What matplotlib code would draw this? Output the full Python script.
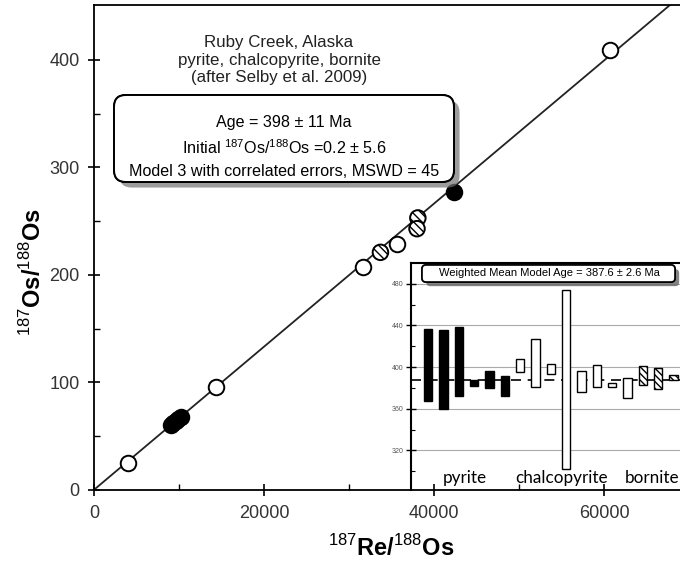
import numpy as np
import matplotlib
matplotlib.use("Agg")
import matplotlib.pyplot as plt
import matplotlib.patheffects as pe
from matplotlib.patches import FancyBboxPatch
from matplotlib.transforms import IdentityTransform

plt.rcParams['font.family'] = ['Liberation Sans', 'DejaVu Sans']
plt.rcParams['mathtext.fontset'] = 'custom'
plt.rcParams['mathtext.rm'] = 'Liberation Sans'
plt.rcParams['mathtext.bf'] = 'Liberation Sans:bold'

# isochron regression
AGE_MA = 398
AGE_ERR = 11
OS_INITIAL = 0.2
OS_INITIAL_ERR = 5.6
MSWD = 45
LAMBDA_187RE = 1.666e-11  # per year

# 187Re/188Os vs 187Os/188Os by mineral
pyrite_re = [9000, 9300, 9600, 9900, 10200, 42300]
pyrite_os = [60, 62, 64, 66, 68, 277]
chalco_re = [4000, 14350, 31650, 35650, 60700]
chalco_os = [25, 96, 207, 229, 409]
bornite_re = [33700, 38100, 38000]
bornite_os = [221, 253, 243]

# Re-Os model ages (Ma), lower / upper ends of the error bars
model_mineral = ['pyrite'] * 6 + ['chalcopyrite'] * 8 + ['bornite'] * 3
model_lo = [367, 360, 372, 382, 380, 372, 395, 381, 393, 302, 376, 381, 381, 370, 383, 379, 388]
model_hi = [437, 436, 439, 388, 396, 391, 408, 427, 403, 474, 396, 402, 385, 390, 401, 399, 392]
WMEAN = 387.6
WMEAN_ERR = 2.6

W, H = 680, 571
fig = plt.figure(figsize=(W / 100, H / 100), dpi=100)
fig.patch.set_facecolor('white')


def px(x0, y0, x1, y1):
    # pixel box (top-left origin) -> figure fraction rect
    return [x0 / W, 1 - y1 / H, (x1 - x0) / W, (y1 - y0) / H]


ax = fig.add_axes(px(94, 5, 689, 490))
ax.set_zorder(3)
ax.patch.set_visible(False)

xs = np.array([0, 70000])
slope = np.exp(LAMBDA_187RE * AGE_MA * 1e6) - 1
ax.plot(xs, OS_INITIAL + slope * xs, color='#222222', lw=1.3, zorder=2)

kw = dict(s=125, linewidths=1.4, edgecolors='black', zorder=4)
ax.scatter(chalco_re, chalco_os, facecolors='white', **kw)
ax.scatter(pyrite_re, pyrite_os, facecolors='black', **kw)
ax.scatter(bornite_re, bornite_os, facecolors='white', hatch='\\\\\\\\', **kw)

ax.set_xlim(0, 70000)
ax.set_ylim(0, 451)
ax.set_xticks([0, 20000, 40000, 60000])
ax.set_xticks([10000, 30000, 50000], minor=True)
ax.set_yticks([0, 100, 200, 300, 400])
ax.set_yticks([50, 150, 250, 350], minor=True)
ax.tick_params(which='major', direction='inout', length=9, width=1.2,
               labelsize=13, labelcolor='#333333', pad=6)
ax.tick_params(which='minor', direction='in', length=4, width=1)
for side in ['left', 'bottom', 'top']:
    ax.spines[side].set_linewidth(1.3)
ax.spines['right'].set_visible(False)

fig.text(33 / W, 1 - 272 / H, r'$^{187}$Os/$^{188}$Os', rotation=90,
         ha='center', va='center', fontsize=17, fontweight='bold')
fig.text(391 / W, 1 - 548 / H, r'$^{187}$Re/$^{188}$Os',
         ha='center', va='center', fontsize=17, fontweight='bold')

# location note
for i, line in enumerate(['Ruby Creek, Alaska', 'pyrite, chalcopyrite, bornite',
                          '(after Selby et al. 2009)']):
    fig.text(279 / W, 1 - (43 + 17.5 * i) / H, line, ha='center', va='center',
             fontsize=12.2, color='#222222')

# result box
box = FancyBboxPatch((114, H - 182), 340, 87, boxstyle='round,pad=0,rounding_size=12',
                     transform=IdentityTransform(), facecolor='white',
                     edgecolor='black', lw=1.4, zorder=5)
box.set_path_effects([pe.withSimplePatchShadow(offset=(4, -4), shadow_rgbFace='0.45', alpha=0.7),
                      pe.Normal()])
fig.add_artist(box)
fig.text(284 / W, 1 - 122 / H, f'Age = {AGE_MA} ± {AGE_ERR} Ma', ha='center', va='center',
         fontsize=11.6, zorder=6)
fig.text(284 / W, 1 - 148 / H,
         rf'Initial $^{{187}}$Os/$^{{188}}$Os ={OS_INITIAL} ± {OS_INITIAL_ERR}',
         ha='center', va='center', fontsize=11.6, zorder=6)
fig.text(284 / W, 1 - 171 / H, f'Model 3 with correlated errors, MSWD = {MSWD}',
         ha='center', va='center', fontsize=11.6, zorder=6)

# inset: model ages per sample
ins = fig.add_axes(px(411, 263, 700, 490))
ins.set_zorder(2)
pos = np.arange(1, len(model_lo) + 1)
lo = np.array(model_lo)
hi = np.array(model_hi)
style = {'pyrite': dict(color='black', edgecolor='black'),
         'chalcopyrite': dict(color='white', edgecolor='black'),
         'bornite': dict(color='white', edgecolor='black', hatch='\\\\\\\\\\')}
for p, b, t, m in zip(pos, lo, hi, model_mineral):
    ins.bar(p, t - b, bottom=b, width=0.55, linewidth=1.0, zorder=3, **style[m])
ins.axhline(WMEAN, color='black', lw=1.2, ls=(0, (6, 4)), zorder=2)
ins.set_xlim(-0.11, 18.72)
ins.set_ylim(282, 500)
ins.set_yticks([320, 360, 400, 440, 480])
ins.set_yticks([300, 340, 380, 420, 460], minor=True)
ins.yaxis.grid(True, color='#aaaaaa', lw=0.8, zorder=0)
ins.set_axisbelow(True)
ins.set_xticks([])
ins.tick_params(axis='y', which='major', direction='inout', length=7, width=1,
                labelsize=5, labelcolor='#555555', pad=2)
ins.tick_params(axis='y', which='minor', direction='in', length=3, width=0.8)
ins.spines['left'].set_linewidth(1.5)
ins.spines['top'].set_linewidth(1.5)
ins.spines['right'].set_visible(False)
ins.spines['bottom'].set_visible(False)

for name, xp, ha in [('pyrite', 3.4, 'center'), ('chalcopyrite', 9.73, 'center'),
                     ('bornite', 13.8, 'left')]:
    ins.text(xp, 293.5, name, ha=ha, va='center', fontsize=12.3,
             family=['Lato', 'DejaVu Sans'])

tbox = FancyBboxPatch((422, H - 282), 253, 17, boxstyle='round,pad=0,rounding_size=4',
                      transform=IdentityTransform(), facecolor='white',
                      edgecolor='black', lw=1.2, zorder=5)
tbox.set_path_effects([pe.withSimplePatchShadow(offset=(3, -3), shadow_rgbFace='0.4', alpha=0.8),
                       pe.Normal()])
fig.add_artist(tbox)
fig.text(549 / W, 1 - 273.5 / H, f'Weighted Mean Model Age = {WMEAN} ± {WMEAN_ERR} Ma',
         ha='center', va='center', fontsize=8, zorder=6)

fig.savefig('out.png', dpi=100)
